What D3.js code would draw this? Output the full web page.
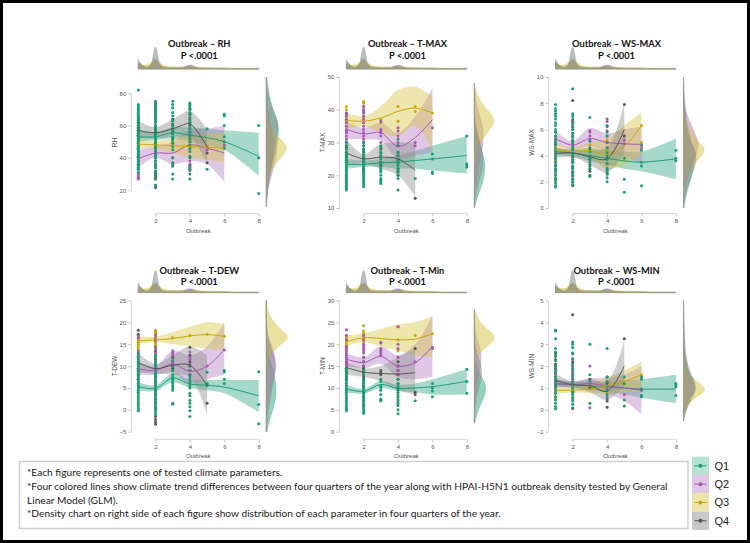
<!DOCTYPE html>
<html>
<head>
<meta charset="utf-8">
<script src="https://cdn.jsdelivr.net/npm/d3@7"></script>
<style>
  body { margin: 0; background: #fff; }
  svg { display: block; }
</style>
</head>
<body>
<div id="chart"></div>
<script>
const quarters = ["Q1", "Q2", "Q3", "Q4"];
const outbreakTicks = [2, 4, 6, 8];

// top marginal density of outbreak counts (same in every panel)
const topGrid = [1, 1.25, 1.5, 1.75, 2, 2.25, 2.5, 3, 3.5, 4, 4.5, 5, 5.5, 6, 6.5, 7, 8];
const topDensity = {
  Q1: [0.30, 0.15, 0.10, 0.22, 0.45, 0.20, 0.10, 0.08, 0.08, 0.15, 0.06, 0.04, 0.04, 0.05, 0.03, 0.03, 0.03],
  Q2: [0.25, 0.12, 0.08, 0.20, 0.40, 0.20, 0.08, 0.06, 0.06, 0.18, 0.06, 0.03, 0.02, 0.02, 0.01, 0, 0],
  Q3: [0.22, 0.18, 0.18, 0.30, 0.42, 0.28, 0.15, 0.08, 0.07, 0.10, 0.08, 0.06, 0.05, 0.04, 0.02, 0.01, 0],
  Q4: [0.42, 0.15, 0.04, 0.20, 1.00, 0.20, 0.03, 0.03, 0.03, 0.10, 0.03, 0.02, 0.01, 0, 0, 0, 0]
};

// ---- RH ----
const rhPoints = {
  Q1: {1: [82,73,72,71,70,69,68,67,66,65,64,63,62,61,60,58,57,56,55,54,53,52,51,50,49,48,47,46,45,44,43,42,41,40,39,38,37,36,35,34,33,31],
       2: [75,73,71,70,69,68,67,66,65,64,63,62,60,59,58,57,56,55,54,53,52,51,50,49,48,47,46,45,44,43,42,41,40,38,36,34,32,30,29,27,23,22],
       3: [75,73,71,68,66,63,60,57,55,53,51,49,47,45,40,37,35,30,27],
       4: [74,73,72,71,70,68,67,65,63,62,60,58,56,54,52,50,48,46,44,41,40,35,33,30,27],
       5: [58,33], 6: [67,66,60,53,50,46], 8: [60,40,18]},
  Q2: {1: [45,43,41,40,38,36,35,33,31,30,29,28,27], 2: [46,44,42,40,38,35,30,27,23,21.5],
       3: [40,37,36,35], 4: [38,36,35,34,33,32], 5: [45], 6: [48]},
  Q3: {1: [55,53,51,50,49,48,47,46,45], 2: [52,50,49,48,47,46,45], 3: [50,48], 4: [52,50,45,40], 5: [47], 6: [48,46]},
  Q4: {1: [64,63,62,61,60,59,58,57,56,55,54,53,52,51,50,48,46,42,40],
       2: [74,72,70,68,66,64,62,60,58,56,54,52,50,48,46,44,42,40,38,36,34,31,30,29,28,22],
       3: [64,63,61,60,58,56,55,52,50], 4: [70,67,64,62,60,58,56,54,52,50], 5: [47,43,37]}
};
// [outbreak, fit, lower, upper]
const rhTrend = {
  Q1: [[1,53,50,57],[2,53,51,56],[3,55.5,52,59],[4,54,50,59],[5,52.5,48,58],[6,50,45,57],[8,41,29,55.5]],
  Q2: [[1,39.5,34,45],[2,43,40,47],[3,43,36,50],[4,48,38,57],[5,46,36,58],[6,43,25,60]],
  Q3: [[1,48.5,45.5,52],[2,48,46,50.5],[3,47.5,43,52],[4,47,40,54],[5,46.5,39,55],[6,46,37,55]],
  Q4: [[1,57,52,63],[2,55.5,52,59],[3,58,53,64],[3.5,60,53,67],[4,61,53,69],[5,47,37,58]]
};
const rhGrid = [10,20,30,40,45,50,55,60,65,70,80,90];
const rhDensity = {
  Q1: [0,0.03,0.15,0.35,0.45,0.5,0.55,0.55,0.45,0.3,0.1,0.02],
  Q2: [0,0.05,0.25,0.45,0.48,0.42,0.3,0.2,0.12,0.06,0.02,0],
  Q3: [0,0.02,0.08,0.6,1.0,0.8,0.35,0.12,0.05,0.02,0,0],
  Q4: [0,0.05,0.15,0.3,0.35,0.42,0.5,0.55,0.45,0.25,0.05,0]
};

// ---- T-MAX ----
const tmaxPoints = {
  Q1: {1: [30,29,28,27,26.5,26,25.5,25,24.5,24,23.5,23,22.5,22,21.5,21,20.5,20,19.5,19,18.5,18,17.5,17,16.5,16,15.5],
       2: [30,29,28,27.5,27,26,25.5,25,24.5,24,23.5,23,22.5,22,21.5,21,20.5,20,19.5,19,18.5,18,17.5,17,16.5],
       3: [29,28.5,27,26,25,24,23.5,22.5,22,21.5,21,20,19,18.5,18,17.5],
       4: [31,29,27,26,25,24.5,24,23.5,23,22,21.5,21,20,19,15.5],
       5: [19], 6: [26.5,25,21,20.5], 8: [32,23.5,23,22.5]},
  Q2: {1: [39,38.5,38,37,36,35,34,33.5,33,32,31,30,29], 2: [41,40,39.5,39,38,37,36,35,34,33,32,31,30],
       3: [36.5,34,33.5,33,32,30], 4: [34.5,33.5,32,30,29], 5: [30,29], 6: [34.5]},
  Q3: {1: [41,40,39,38,37,36.5,36,35], 2: [42.5,42,41,40,39,38,37,36], 3: [37,36], 4: [41,36.5], 5: [41,39.5], 6: [39]},
  Q4: {1: [29,28.5,28,27,26.5,26,25,24.5,24], 2: [30,29,28,27,26,25.5,25,24,23,22,21],
       3: [28,27,26,24,23], 4: [29,27,26,25,24,22,21,20], 5: [13]}
};
const tmaxTrend = {
  Q1: [[1,23.3,22,25],[2,23.3,22.5,24.5],[3,23.8,22.5,25],[4,24,22,26],[5,24.5,22,27.5],[6,25,21.5,29],[8,26,20.5,32]],
  Q2: [[1,34,31,36.5],[2,32.6,31,34.5],[3,33,30.5,36],[4,28.8,25,33],[5,31.5,26,38],[6,37,27,46.5]],
  Q3: [[1,36.7,34,39],[2,36.5,35,38],[3,37.5,33,41],[4,39.5,32,46],[5,40.5,35,47],[6,39,28,44]],
  Q4: [[1,26.8,23,31],[2,25,23.5,26.5],[3,25.5,22,29.5],[4,25,20,30],[5,21.5,13.5,30]]
};
const tmaxGrid = [10,14,18,22,26,30,34,37,40,44,48];
const tmaxDensity = {
  Q1: [0,0.15,0.4,0.5,0.42,0.2,0.05,0.01,0,0,0],
  Q2: [0,0,0.05,0.15,0.3,0.4,0.4,0.3,0.15,0.04,0],
  Q3: [0,0,0,0.02,0.08,0.25,0.7,1.0,0.55,0.12,0],
  Q4: [0,0.03,0.2,0.38,0.4,0.25,0.08,0.02,0,0,0]
};

// ---- WS-MAX ----
const wsmaxPoints = {
  Q1: {1: [7.9,7.6,7.4,7.2,7.0,6.8,6.5,6.3,6.0,5.8,5.5,5.2,5.0,4.8,4.5,4.3,4.0,3.8,3.5,3.3,3.0,2.8,2.5,2.3,2.1,1.9,1.7,1.6],
       2: [9.1,7.2,7.0,6.8,6.5,6.2,6.0,5.7,5.5,5.2,5.0,4.7,4.5,4.2,4.0,3.7,3.5,3.2,3.0,2.7,2.5,2.2,2.0,1.8,1.7],
       3: [6.9,5.1,4.6,4.3,4.0,3.8,3.5,3.2,3.0,2.5,2.4],
       4: [6.3,5.8,5.5,5.0,4.6,4.2,4.0,3.7,3.4,3.0,2.8,2.6,2.3,2.0],
       5: [3.8,2.2,1.2], 6: [4.8,4.4,3.5,3.2,1.7], 8: [4.4,3.8,3.6]},
  Q2: {1: [5.8,5.5,5.3,5.0,4.8,4.5,4.2,3.8,3.3,3.0,2.6,2.2], 2: [6.7,6.4,6.0,5.7,5.4,5.1,4.8,4.4,4.0,3.6,3.2,2.8,2.4,2.0],
       3: [5.9,5.8,5.5,5.2], 4: [6.8,6.6,6.2,5.9,5.5,5.0,4.6], 5: [5.2,4.9], 6: [4.8,4.6]},
  Q3: {1: [5.5,5.2,5.0,4.8,4.6,4.4,4.2,4.0,3.7], 2: [5.2,5.0,4.8,4.6,4.3,4.0,3.7], 3: [4.8,4.3], 4: [5.2,4.4,3.3], 5: [4.9], 6: [6.3,5.0]},
  Q4: {1: [5.0,4.6,4.3,4.0,3.6,3.2,2.8], 2: [8.2,6.6,6.2,5.5,5.0,4.5,4.2,3.9,3.5,3.1,2.7,2.2],
       3: [4.5,3.7,3.3,3.0,2.8], 4: [4.4,3.8,3.4,3.0,2.7,2.6], 5: [7.9,5.5]}
};
const wsmaxTrend = {
  Q1: [[1,4.3,4.0,4.6],[2,4.2,3.9,4.4],[3,4.0,3.6,4.4],[4,3.8,3.3,4.4],[5,3.6,3.0,4.3],[6,3.5,2.8,4.3],[8,3.75,2.2,5.3]],
  Q2: [[1,5.3,4.8,5.9],[2,4.8,4.5,5.1],[3,5.3,4.7,6.1],[4,5.0,4.3,5.7],[5,4.9,3.9,6.0],[6,4.85,3.4,6.2]],
  Q3: [[1,4.5,4.2,4.9],[2,4.3,4.1,4.6],[3,4.4,3.8,5.0],[4,4.1,3.0,5.3],[5,4.7,3.3,6.3],[6,6.3,4.0,7.3]],
  Q4: [[1,4.15,3.8,4.6],[2,4.2,3.9,4.5],[3,3.9,3.3,4.6],[4,3.75,2.7,4.6],[5,6.0,4.2,8.0]]
};
const wsmaxGrid = [0,1,2,3,4,4.5,5,6,7,8,9,10];
const wsmaxDensity = {
  Q1: [0.02,0.1,0.3,0.45,0.5,0.45,0.35,0.2,0.1,0.05,0.02,0],
  Q2: [0,0.02,0.1,0.3,0.55,0.65,0.68,0.45,0.15,0.03,0,0],
  Q3: [0,0.01,0.05,0.25,0.85,1.0,0.7,0.25,0.05,0.01,0,0],
  Q4: [0,0.05,0.25,0.5,0.6,0.5,0.35,0.15,0.05,0.03,0,0]
};

// ---- T-DEW ----
const tdewPoints = {
  Q1: {1: [12.8,12,11.5,11,10.5,10,9.5,9,8.5,8,7.5,7,6.5,6,5.5,5,4.5,4,3.5,3,2.5,2,1.5,1,0.5,0,-0.2],
       2: [12.5,12,11,10.5,10,9,8.5,8,7.5,7,6.5,6,5.5,5,4.5,4,3.5,3,2.5,2,1.5,1,0.5,0,-0.5,-1],
       3: [11.3,10,9,8,7.5,7,6.5,6,5.5,5,4.5,1.5,1.3],
       4: [10,9,8,7.5,7,6.5,6,5.5,5,3.8,3.2,2.2,1.5,0.7,-0.2,-1.5],
       5: [8.6,6,5.7,5.5], 6: [9,8.7,7,6], 8: [8.7,1.2,-3.2]},
  Q2: {1: [17,16.5,13.5,12.5,11,10.5,10,9.5,9,8.5,8,7.5,7,6], 2: [17,16,14,13,12,11,10,9.5,9,8.5,8,7,6,5.5,4.5,3.5,2.5],
       3: [13.5,13,12.5,11,10.5,10], 4: [13.2,12,11.5,10.5,9,8], 5: [10], 6: [13.7]},
  Q3: {1: [16.5,16,15.5,15,14.5,14], 2: [18.2,17.8,17.3,16.8,16.3,15.8,15.3,14.8], 3: [16.5], 4: [17], 5: [17.3], 6: [16.8]},
  Q4: {1: [18.2,17.3,16.5,13,12,11,10.5,10,9,8,7],
       2: [18,17.5,16.5,15.5,14.5,13.5,12.5,11.5,10.5,9.5,8.5,7.5,6.5,5.5,4.5,3.5,2.5,1.5,0.5,-1.5,-2.2,-2.8,-3.3],
       3: [12,11,10,9.5,9], 4: [14.3,12.5,11,10,9], 5: [1.5]}
};
const tdewTrend = {
  Q1: [[1,5.3,4.5,6.3],[2,4.9,4.3,5.6],[3,7.3,6.3,8.3],[4,5.9,5,7],[5,5.6,4.5,6.8],[6,5.2,3.8,6.8],[8,3.2,-0.5,6.8]],
  Q2: [[1,9.4,8,11],[2,9.0,8,10],[3,10.5,8.5,13.5],[4,8.8,6,12.5],[5,10,7,14.5],[6,13.8,8,20]],
  Q3: [[1,15.8,15,16.8],[2,16,15.5,16.7],[3,16.3,15,17.8],[4,16.9,14.5,19],[5,17.2,14,20],[6,16.8,13.5,19.5]],
  Q4: [[1,10.8,8.5,13],[2,9.4,8.3,10.5],[3,10.2,8,12.5],[4,10.2,7.5,14.5],[5,5.5,-1,12.5]]
};
const tdewGrid = [-5,-3,0,3,6,9,12,14,16,17,19,22,25];
const tdewDensity = {
  Q1: [0.03,0.1,0.3,0.45,0.45,0.3,0.12,0.05,0.02,0,0,0,0],
  Q2: [0,0,0.02,0.1,0.25,0.4,0.4,0.3,0.15,0.05,0.02,0,0],
  Q3: [0,0,0,0,0,0.02,0.1,0.4,0.95,1.0,0.5,0.05,0],
  Q4: [0,0.05,0.1,0.2,0.3,0.45,0.4,0.2,0.1,0.05,0.02,0,0]
};

// ---- T-Min ----
const tminPoints = {
  Q1: {1: [14.5,14,13.5,13,12.5,12,11.5,11,10.5,10,9.5,9,8.5,8,7.5,7,6.5,6,5.5,5,4.8],
       2: [14,13.5,13,12,11.5,11,10.5,10,9.5,9,8.5,8,7.5,7,6.5,6,5.5,5,4.5,4.2],
       3: [12,11.5,10.5,10,9.5,8.5,7.5,7.2,7],
       4: [12,11,10.5,10,9.5,9,8.5,8,7.5,7,6.5,6,5,4.1],
       5: [7.1], 6: [11,10,9.3,8], 8: [14.3,11.5,8.8]},
  Q2: {1: [23.3,22,21,19.5,19,18.5,18,17.5,17,16.5,16,15.5,15,14.5,14], 2: [22,21,20,19.5,19,18.5,18,17,16,15,14,13],
       3: [20.3,19,18.5,18,17.5], 4: [24,20,19,17,15,14,13], 5: [16], 6: [19,19.3]},
  Q3: {1: [22,21.5,21,20.5,20,19.5,19], 2: [24.2,23,22.5,22,21.5,21,20.5,20], 3: [20.5], 4: [24,21,18.5], 5: [22], 6: [22.4]},
  Q4: {1: [16,15.5,15,14.5,14,13.5,13,12.5,12], 2: [17,16,15,14.5,14,13.5,13,12.5,12,11.5,11,10.5,10,9,8,7,6],
       3: [14,13.5,13], 4: [16,15,14,13,12,11,10], 5: [19,9,8.5]}
};
const tminTrend = {
  Q1: [[1,9.8,9,10.7],[2,9.2,8.7,9.8],[3,10.8,10,11.6],[4,9.9,9.3,10.7],[5,10,9,11],[6,10.3,8.5,12],[8,11.5,8.5,14.3]],
  Q2: [[1,16.6,15,18],[2,15.8,14.5,17],[3,17.2,15.5,19.5],[4,15,12.5,17.5],[5,15.8,12,20],[6,19.5,12.5,26.5]],
  Q3: [[1,20.6,19.5,22],[2,21.5,20.5,22.5],[3,21.3,19.5,23.5],[4,21,18.5,24.5],[5,21.2,17.5,25],[6,22.4,17,26.5]],
  Q4: [[1,14.7,13,16],[2,13.6,12.5,14.5],[3,13.3,11.5,15],[4,13.2,9.5,17],[5,13.5,8.5,19]]
};
const tminGrid = [2,5,8,10,12,14,16,18,20,21.5,23,25,28];
const tminDensity = {
  Q1: [0.02,0.15,0.45,0.55,0.4,0.15,0.05,0.01,0,0,0,0,0],
  Q2: [0,0,0.02,0.05,0.12,0.25,0.3,0.3,0.2,0.1,0.05,0.01,0],
  Q3: [0,0,0,0,0,0.02,0.05,0.2,0.7,1.0,0.7,0.2,0],
  Q4: [0,0.02,0.1,0.2,0.3,0.35,0.25,0.1,0.03,0,0,0,0]
};

// ---- WS-MIN ----
const wsminPoints = {
  Q1: {1: [3.65,3.6,3.25,2.8,2.65,2.5,2.25,2.0,1.85,1.7,1.5,1.35,1.2,1.05,0.9,0.75,0.6,0.45,0.3,0.15,0.05],
       2: [3.1,3.0,2.85,2.6,2.35,2.1,1.9,1.7,1.5,1.3,1.15,1.0,0.85,0.7,0.55,0.4,0.25,0.1],
       3: [3.0,1.6,1.3,0.3], 4: [2.8,1.5,1.3,1.1,0.9,0.7,0.5],
       5: [1.5,1.2,0.45,0.18], 6: [1.5,1.4,0.95,0.65,0.6], 8: [1.2,1.15,1.05,0.65]},
  Q2: {1: [2.0,1.8,1.6,1.4,1.2,1.0,0.8], 2: [2.55,2.3,2.0,1.8,1.6,1.4,1.2,1.0,0.8,0.5,0.05],
       3: [2.0,1.2,0.1], 4: [1.3,1.0,0.6], 5: [0.7], 6: [0.9]},
  Q3: {1: [1.5,1.2,1.0,0.9,0.8,0.6,0.5], 2: [1.3,1.1,0.9,0.8,0.6], 3: [1.1], 4: [1.3,0.8], 5: [1.2], 6: [1.6]},
  Q4: {1: [2.6,2.45,2.3,2.1,1.9,1.7,1.5,1.3,1.1], 2: [4.35,2.2,2.0,1.8,1.6,1.4,1.2,1.0,0.8],
       3: [1.4,1.0], 4: [1.5,1.2,0.4,0.12], 5: [3.25]}
};
const wsminTrend = {
  Q1: [[1,1.2,1.05,1.35],[2,1.15,1.0,1.3],[3,1.1,0.9,1.3],[4,1.05,0.85,1.3],[5,1.0,0.7,1.35],[6,0.95,0.55,1.4],[8,0.95,0.3,1.6]],
  Q2: [[1,1.2,1.0,1.45],[2,1.15,1.05,1.3],[3,1.2,0.95,1.45],[4,1.1,0.75,1.45],[5,1.0,0.4,1.6],[6,0.9,-0.2,2.0]],
  Q3: [[1,0.9,0.7,1.1],[2,0.9,0.8,1.0],[3,0.95,0.75,1.2],[4,1.1,0.75,1.5],[5,1.3,0.8,1.8],[6,1.6,0.9,2.2]],
  Q4: [[1,1.35,1.1,1.65],[2,1.15,1.0,1.3],[3,1.1,0.8,1.4],[4,0.85,0.45,1.3],[5,2.0,1.1,3.2]]
};
const wsminGrid = [-0.5,0,0.5,0.8,1,1.3,1.6,2,2.5,3,4,5];
const wsminDensity = {
  Q1: [0,0.1,0.35,0.5,0.55,0.45,0.3,0.15,0.08,0.04,0.02,0],
  Q2: [0,0.1,0.35,0.55,0.55,0.45,0.25,0.1,0.05,0.02,0,0],
  Q3: [0,0.05,0.4,0.95,1.0,0.6,0.25,0.08,0.02,0,0,0],
  Q4: [0,0.05,0.25,0.45,0.55,0.5,0.35,0.2,0.1,0.05,0.02,0]
};

const notes = [
  "*Each figure represents one of tested climate parameters.",
  "*Four colored lines show climate trend differences between four quarters of the year along with HPAI-H5N1 outbreak density tested by General",
  "Linear Model (GLM).",
  "*Density chart on right side of each figure show distribution of each parameter in four quarters of the year."
];

const panels = [
  {title: "Outbreak \u2013 RH", yLabel: "RH", yDomain: [9, 90], yTicks: [20, 40, 60, 80], points: rhPoints, trend: rhTrend, grid: rhGrid, density: rhDensity},
  {title: "Outbreak \u2013 T-MAX", yLabel: "T-MAX", yDomain: [10, 50], yTicks: [10, 20, 30, 40, 50], points: tmaxPoints, trend: tmaxTrend, grid: tmaxGrid, density: tmaxDensity},
  {title: "Outbreak \u2013 WS-MAX", yLabel: "WS-MAX", yDomain: [0, 10], yTicks: [0, 2, 4, 6, 8, 10], points: wsmaxPoints, trend: wsmaxTrend, grid: wsmaxGrid, density: wsmaxDensity},
  {title: "Outbreak \u2013 T-DEW", yLabel: "T-DEW", yDomain: [-5, 25], yTicks: [-5, 0, 5, 10, 15, 20, 25], points: tdewPoints, trend: tdewTrend, grid: tdewGrid, density: tdewDensity},
  {title: "Outbreak \u2013 T-Min", yLabel: "T-MIN", yDomain: [0, 30], yTicks: [0, 5, 10, 15, 20, 25, 30], points: tminPoints, trend: tminTrend, grid: tminGrid, density: tminDensity},
  {title: "Outbreak \u2013 WS-MIN", yLabel: "WS-MIN", yDomain: [-1, 5], yTicks: [-1, 0, 1, 2, 3, 4, 5], points: wsminPoints, trend: wsminTrend, grid: wsminGrid, density: wsminDensity}
];

const pointColor = {Q1: "#1b9e77", Q2: "#a857b4", Q3: "#c9a900", Q4: "#555555"};
const bandColor = {Q1: "#2aa57f", Q2: "#b27cc2", Q3: "#d3c340", Q4: "#8a8a8a"};
const legendFill = {Q1: "#b5e2d2", Q2: "#dfc8e4", Q3: "#ece4a6", Q4: "#c8c8c8"};

const width = 750, height = 543;
const colX = [138.3, 346.4, 555.5];      // x position of outbreak = 1
const unit = 17.2;                        // px per outbreak unit
const rowTop = [77, 300.5], rowBottom = [208, 431.7];
const titleY = [44, 270.8];
const stripBase = [69, 292.6];
const axisY = [213.5, 439.3];
const tickFmt = d3.format("~g");

const svg = d3.select("#chart").append("svg")
  .attr("width", width)
  .attr("height", height)
  .style("font-family", "'Liberation Sans', Arial, sans-serif");

svg.append("rect").attr("width", width).attr("height", height).attr("fill", "#fff");

panels.forEach((p, i) => drawPanel(p, i % 3, Math.floor(i / 3)));

function drawPanel(p, col, row) {
  const x0 = colX[col];
  const x = d3.scaleLinear().domain([1, 8]).range([x0, x0 + 7 * unit]);
  const y = d3.scaleLinear().domain(p.yDomain).range([rowBottom[row], rowTop[row]]);
  const g = svg.append("g");

  // titles
  const tt = g.append("text")
    .attr("x", x0 + 61)
    .attr("y", titleY[row])
    .attr("text-anchor", "middle")
    .style("font-family", "Lato, 'Open Sans', sans-serif")
    .style("font-weight", "bold")
    .style("font-size", "9.3px")
    .attr("fill", "#111");
  tt.append("tspan").attr("x", x0 + 61).attr("dy", "0.35em").text(p.title);
  tt.append("tspan").attr("x", x0 + 61).attr("dy", "11.4").text("P <.0001");

  // top density of outbreaks
  const hTop = d3.scaleLinear().domain([0, 1]).range([stripBase[row], stripBase[row] - 22]);
  const topArea = d3.area()
    .x((d, k) => x(topGrid[k]))
    .y0(stripBase[row])
    .y1(d => hTop(d))
    .curve(d3.curveMonotoneX);
  quarters.forEach(q => {
    g.append("path")
      .datum(topDensity[q])
      .attr("d", topArea)
      .attr("fill", bandColor[q])
      .attr("fill-opacity", 0.55)
      .attr("stroke", bandColor[q])
      .attr("stroke-opacity", 0.7)
      .attr("stroke-width", 0.5);
  });

  // confidence bands
  const band = d3.area()
    .x(d => x(d[0]))
    .y0(d => y(d[2]))
    .y1(d => y(d[3]))
    .curve(d3.curveCatmullRom);
  quarters.forEach(q => {
    g.append("path")
      .datum(p.trend[q])
      .attr("d", band)
      .attr("fill", bandColor[q])
      .attr("fill-opacity", 0.42);
  });

  // points
  ["Q4", "Q3", "Q2", "Q1"].forEach(q => {
    const pts = [];
    Object.keys(p.points[q]).forEach(k => {
      p.points[q][k].forEach(v => pts.push([+k, v]));
    });
    g.append("g").selectAll("circle")
      .data(pts)
      .join("circle")
      .attr("cx", d => x(d[0]))
      .attr("cy", d => y(d[1]))
      .attr("r", 1.5)
      .attr("fill", pointColor[q]);
  });

  // trend lines
  const line = d3.line()
    .x(d => x(d[0]))
    .y(d => y(d[1]))
    .curve(d3.curveCatmullRom);
  quarters.forEach(q => {
    g.append("path")
      .datum(p.trend[q])
      .attr("d", line)
      .attr("fill", "none")
      .attr("stroke", pointColor[q])
      .attr("stroke-width", 1);
  });

  // right density
  const base = x0 + 128;
  const wRight = d3.scaleLinear().domain([0, 1]).range([base, base + 22]);
  const rightArea = d3.area()
    .y((d, k) => y(p.grid[k]))
    .x0(base)
    .x1(d => wRight(d))
    .curve(d3.curveBasis);
  quarters.forEach(q => {
    g.append("path")
      .datum(p.density[q])
      .attr("d", rightArea)
      .attr("fill", bandColor[q])
      .attr("fill-opacity", 0.5)
      .attr("stroke", bandColor[q])
      .attr("stroke-opacity", 0.7)
      .attr("stroke-width", 0.5);
  });

  // y axis
  const yAxis = g.append("g")
    .attr("transform", `translate(${x0 - 7},0)`)
    .call(d3.axisLeft(y).tickValues(p.yTicks).tickFormat(tickFmt).tickSize(3).tickPadding(2));
  yAxis.select(".domain").remove();
  yAxis.append("line")
    .attr("y1", y(d3.min(p.yTicks)))
    .attr("y2", y(d3.max(p.yTicks)))
    .attr("stroke", "#bbb")
    .attr("stroke-width", 0.6);

  // x axis
  const xAxis = g.append("g")
    .attr("transform", `translate(0,${axisY[row]})`)
    .call(d3.axisBottom(x).tickValues(outbreakTicks).tickFormat(tickFmt).tickSize(3).tickPadding(2));
  xAxis.select(".domain").remove();
  xAxis.append("line")
    .attr("x1", x(outbreakTicks[0]))
    .attr("x2", x(outbreakTicks[outbreakTicks.length - 1]))
    .attr("stroke", "#bbb")
    .attr("stroke-width", 0.6);

  [yAxis, xAxis].forEach(a => {
    a.selectAll(".tick line").attr("stroke", "#999").attr("stroke-width", 0.6);
    a.selectAll(".tick text").attr("fill", "#555").style("font-size", "6px");
  });

  g.append("text")
    .attr("x", x0 + 60)
    .attr("y", axisY[row] + 19)
    .attr("text-anchor", "middle")
    .attr("fill", "#555")
    .style("font-size", "6px")
    .text("Outbreak");

  g.append("text")
    .attr("transform", `translate(${x0 - 24},${(rowTop[row] + rowBottom[row]) / 2}) rotate(-90)`)
    .attr("text-anchor", "middle")
    .attr("dy", "0.35em")
    .attr("fill", "#555")
    .style("font-size", "6.5px")
    .text(p.yLabel);
}

// notes box
svg.append("rect")
  .attr("x", 19.5).attr("y", 461.5)
  .attr("width", 668.5).attr("height", 67)
  .attr("fill", "none")
  .attr("stroke", "#cfcfcf")
  .attr("stroke-width", 1.5);

const noteY = [476, 490, 503.5, 517];
const noteText = svg.append("g")
  .style("font-family", "Lato, 'Open Sans', sans-serif")
  .style("font-size", "10.2px")
  .attr("fill", "#1a1a1a");
notes.forEach((t, i) => {
  noteText.append("text").attr("x", 27).attr("y", noteY[i]).text(t);
});

// legend
const legend = svg.append("g");
quarters.forEach((q, i) => {
  const ly = 456.7 + i * 18.3;
  legend.append("rect")
    .attr("x", 692).attr("y", ly)
    .attr("width", 17).attr("height", 18.3)
    .attr("fill", legendFill[q]);
  legend.append("line")
    .attr("x1", 694.5).attr("x2", 706.5)
    .attr("y1", ly + 9.15).attr("y2", ly + 9.15)
    .attr("stroke", pointColor[q]).attr("stroke-width", 1);
  legend.append("circle")
    .attr("cx", 700.5).attr("cy", ly + 9.15).attr("r", 2)
    .attr("fill", pointColor[q]);
  legend.append("text")
    .attr("x", 714.5).attr("y", ly + 9.15)
    .attr("dy", "0.35em")
    .attr("fill", "#222")
    .style("font-size", "11px")
    .text(q);
});

// outer frame
svg.append("rect")
  .attr("x", 1.5).attr("y", 1.5)
  .attr("width", width - 3).attr("height", height - 3)
  .attr("fill", "none")
  .attr("stroke", "#000")
  .attr("stroke-width", 3);
</script>
</body>
</html>
